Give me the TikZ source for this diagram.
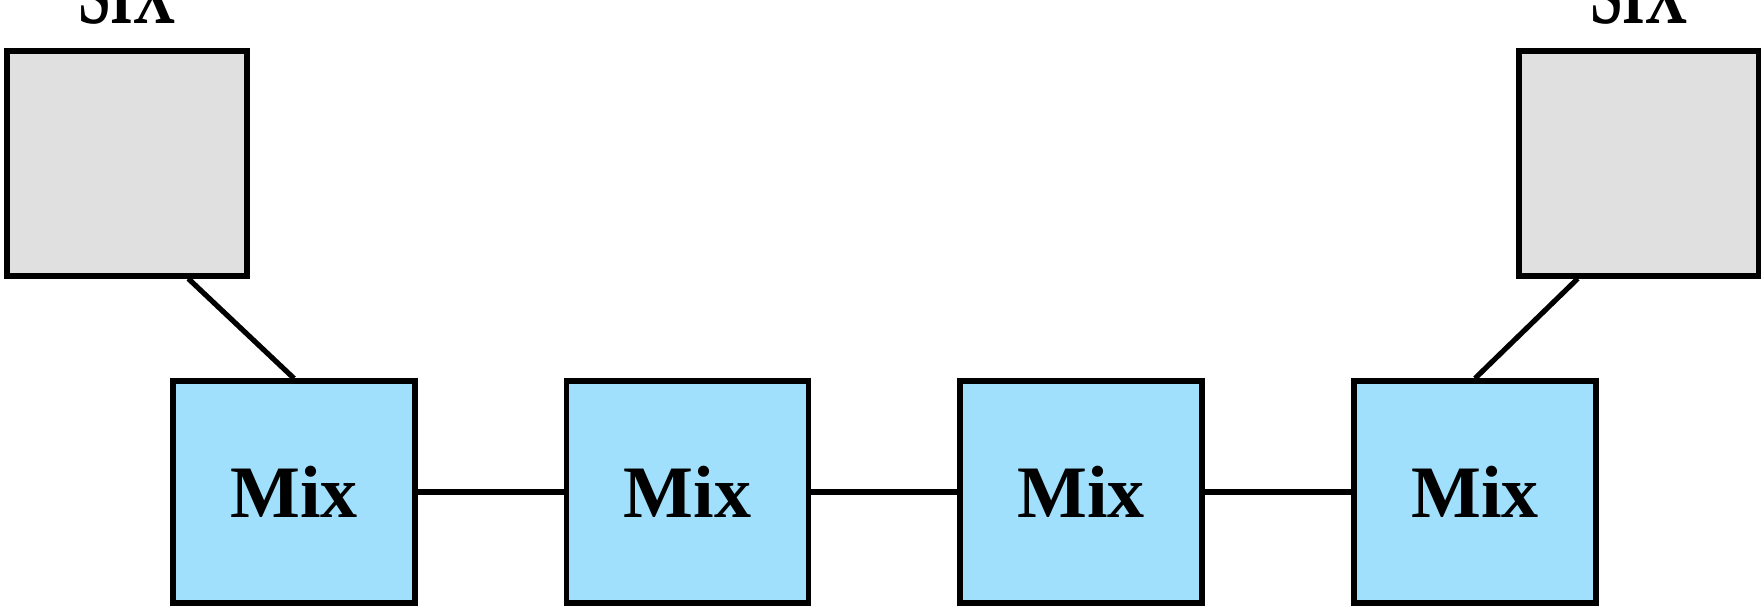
\documentclass[tikz,border=0pt]{standalone}
\usepackage{fontspec}
\setmainfont{Liberation Serif}
\newfontfamily\namefont{Liberation Serif}[FakeStretch=0.66]
\usepackage{tikz}
\usetikzlibrary{positioning, calc}
\definecolor{mixcolor}{RGB}{160, 224, 252}
\definecolor{hostcolor}{RGB}{224, 224, 224}

\begin{document}
\begin{tikzpicture}[x=0.5pt, y=-0.5pt, line width=2.6pt,
    mixbox/.style={draw, fill=mixcolor, minimum width=121pt, minimum height=111pt, inner sep=0pt, font=\fontsize{37}{40}\selectfont\bfseries},
    hostbox/.style={draw, fill=hostcolor, minimum width=120pt, minimum height=112.5pt, inner sep=0pt},
    hostname/.style={anchor=base, inner sep=0pt, font=\namefont\fontsize{44}{46}\selectfont\bfseries}]
\useasboundingbox (0,0) rectangle (1761,606);
% chain of mixes
\foreach \i/\x in {1/294, 2/687.5, 3/1081, 4/1475} {
    \node[mixbox] (mix\i) at (\x,492) {Mix};
}
\draw (mix1) -- (mix2);
\draw (mix2) -- (mix3);
\draw (mix3) -- (mix4);
% end hosts
\node[hostbox] (hostL) at (127,163.5) {};
\node[hostbox] (hostR) at (1639,163.5) {};
\node[hostname] (nameL) at (127,23) {SIX};
\node[hostname] (nameR) at (1639,23) {SIX};
\draw ($(hostL.south west)!0.75!(hostL.south east)$) -- (mix1.north);
\draw ($(hostR.south west)!0.25!(hostR.south east)$) -- (mix4.north);
\end{tikzpicture}
\end{document}
